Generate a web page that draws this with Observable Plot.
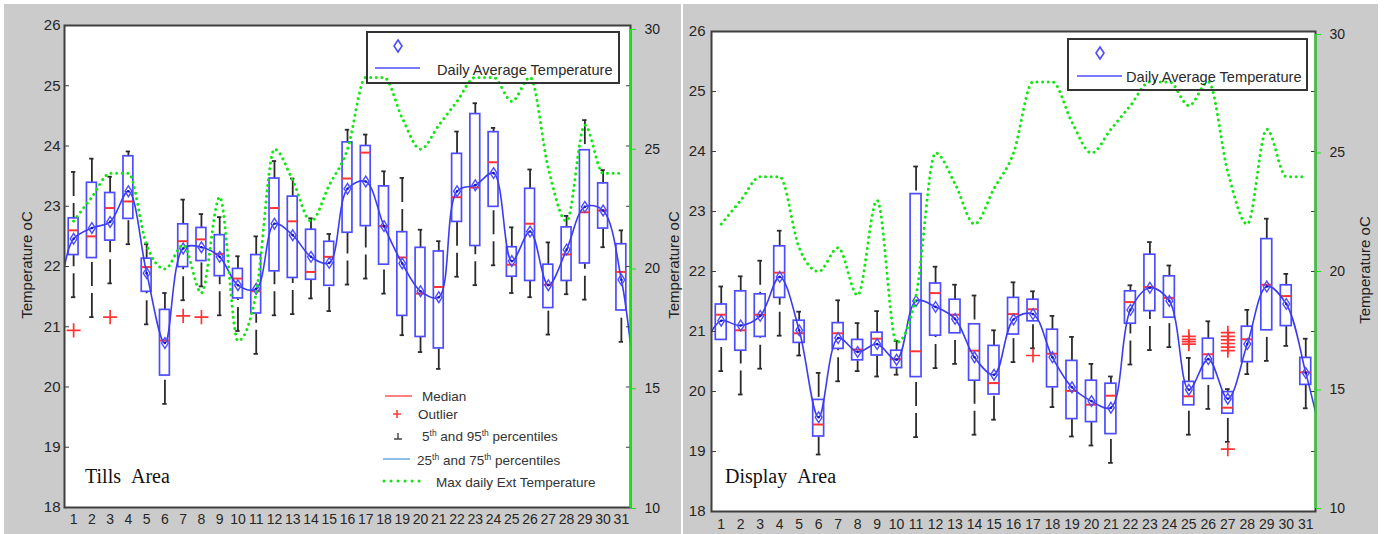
<!DOCTYPE html>
<html>
<head>
<meta charset="utf-8">
<script src="https://cdn.jsdelivr.net/npm/d3@7"></script>
<script src="https://cdn.jsdelivr.net/npm/@observablehq/plot@0.6"></script>
<style>
  body { margin: 0; background: #fff; }
  #page { position: relative; width: 1384px; height: 534px; overflow: hidden; font-family: "Liberation Sans", Arial, sans-serif; }
  .panel { position: absolute; background: #cbcbcb; }
  .layer { position: absolute; top: 0; }
  .layer svg { display: block; }
</style>
</head>
<body>
<div id="page"></div>
<script>
// ---- shared categories and tick values ----
const days = [1, 2, 3, 4, 5, 6, 7, 8, 9, 10, 11, 12, 13, 14, 15, 16, 17, 18, 19, 20, 21, 22, 23, 24, 25, 26, 27, 28, 29, 30, 31];
const tempTicks = [18, 19, 20, 21, 22, 23, 24, 25, 26];
const extTicks = [10, 15, 20, 25, 30];

// Max daily external temperature (right axis), same month for both areas
const extTemp = [22, 23, 24, 24, 21, 20, 21, 19, 23, 17, 19, 25, 23.7, 22, 23.5, 25, 28, 28, 26.3, 25, 26, 27, 28, 28, 27, 28, 24.2, 22, 26, 24, 24];

// ---- Tills area: daily distributions ----
const tillsP95 = [23.57, 23.79, 23.49, 23.91, 22.37, 21.56, 23.11, 22.87, 22.82, 22.17, 22.50, 23.75, 23.46, 22.80, 22.54, 24.27, 24.19, 23.58, 23.47, 22.61, 22.42, 24.24, 24.71, 24.30, 22.65, 23.61, 22.40, 22.84, 24.43, 23.60, 22.60];
const tillsQ3 = [22.80, 23.39, 23.22, 23.83, 22.13, 21.28, 22.70, 22.64, 22.52, 21.96, 22.19, 23.46, 23.16, 22.61, 22.41, 24.06, 24.00, 23.33, 22.57, 22.31, 22.25, 23.87, 24.53, 24.23, 22.32, 23.29, 22.03, 22.65, 23.93, 23.38, 22.37];
const tillsMedian = [22.60, 22.50, 22.97, 23.08, 21.99, 20.77, 22.42, 22.45, 22.21, 21.80, 21.59, 22.97, 22.75, 21.91, 22.16, 23.46, 23.89, 22.67, 22.15, 21.55, 21.66, 23.15, 23.31, 23.73, 22.03, 22.71, 21.70, 22.20, 22.90, 22.93, 21.91];
const tillsMean = [22.46, 22.64, 22.74, 23.25, 21.89, 20.73, 22.30, 22.32, 22.16, 21.69, 21.63, 22.71, 22.52, 22.16, 22.06, 23.29, 23.41, 22.67, 22.05, 21.59, 21.49, 23.25, 23.35, 23.55, 22.09, 22.58, 21.69, 22.28, 22.99, 22.93, 21.78];
const tillsQ1 = [22.19, 22.14, 22.43, 22.79, 21.58, 20.19, 21.99, 22.09, 21.84, 21.47, 21.22, 21.92, 21.81, 21.78, 21.68, 22.56, 22.67, 22.03, 21.18, 20.83, 20.64, 22.74, 22.34, 22.99, 21.83, 21.76, 21.31, 21.76, 22.05, 22.63, 21.27];
const tillsP5 = [21.49, 21.16, 21.72, 22.37, 21.04, 19.72, 21.44, 21.67, 21.19, 20.93, 20.55, 21.19, 21.21, 21.47, 21.26, 21.70, 21.80, 21.55, 20.86, 20.58, 20.30, 21.83, 21.69, 22.02, 21.56, 21.49, 20.87, 21.54, 21.45, 22.32, 20.75];
const tillsOutlierDays = [1, 3, 7, 8];
const tillsOutlierValues = [20.94, 21.16, 21.18, 21.16];
const tillsCurveEnds = [22.0, 20.7]; // average curve where it meets the frame edges

// ---- Display area: daily distributions ----
const displayP95 = [21.75, 21.92, 22.18, 22.68, 21.33, 20.31, 21.52, 21.14, 21.34, 20.84, 23.75, 22.08, 21.78, 21.60, 21.02, 21.82, 21.67, 21.26, 20.91, 20.46, 20.25, 21.77, 22.49, 22.10, 20.56, 21.17, 20.04, 21.36, 22.88, 21.96, 20.88];
const displayQ3 = [21.45, 21.67, 21.62, 22.42, 21.18, 19.86, 21.14, 20.86, 20.98, 20.68, 23.29, 21.80, 21.53, 21.12, 20.76, 21.56, 21.53, 21.03, 20.51, 20.18, 20.13, 21.67, 22.28, 21.92, 20.16, 20.88, 19.99, 21.08, 22.54, 21.77, 20.56];
const displayMedian = [21.28, 21.02, 21.28, 21.98, 20.97, 19.45, 20.97, 20.70, 20.88, 20.54, 20.67, 21.64, 21.28, 20.68, 20.14, 21.29, 21.37, 20.63, 20.01, 19.78, 19.93, 21.49, 21.74, 21.56, 19.92, 20.62, 19.73, 20.87, 21.78, 21.59, 20.32];
const displayMean = [21.18, 21.10, 21.26, 21.91, 21.02, 19.57, 20.89, 20.66, 20.79, 20.53, 21.51, 21.41, 21.21, 20.57, 20.28, 21.20, 21.29, 20.57, 20.07, 19.84, 19.73, 21.36, 21.73, 21.51, 20.03, 20.54, 19.88, 20.79, 21.75, 21.46, 20.31];
const displayQ1 = [20.86, 20.68, 20.91, 21.56, 20.81, 19.25, 20.71, 20.52, 20.60, 20.39, 20.24, 20.93, 20.97, 20.18, 19.95, 20.95, 21.17, 20.07, 19.54, 19.49, 19.29, 21.13, 21.34, 21.23, 19.77, 20.21, 19.63, 20.49, 21.02, 21.09, 20.11];
const displayP5 = [20.34, 19.95, 20.38, 20.93, 20.60, 18.95, 20.17, 20.34, 20.25, 20.28, 19.24, 20.39, 20.46, 19.28, 19.53, 20.49, 20.72, 19.74, 19.25, 19.10, 18.81, 20.45, 20.69, 20.74, 19.28, 19.71, 19.16, 20.29, 20.51, 20.76, 19.72];
const displayOutlierDays = [17, 25, 25, 25, 25, 27, 27, 27, 27, 27, 27, 27];
const displayOutlierValues = [20.60, 20.92, 20.87, 20.83, 20.79, 20.98, 20.92, 20.86, 20.80, 20.74, 20.68, 19.04];
const displayCurveEnds = [21.0, 19.66];

// ---- colours ----
const BOX_BLUE = "#4d4dff";
const CURVE_BLUE = "#3b3bf2";
const MEDIAN_RED = "#ff3434";
const WHISKER = "#2b2b2b";
const EXT_GREEN = "#14e614";
const FRAME = "#3f3f3f";

const xDomain = [0.5, 31.5];

// open diamond, taller than wide, used for the daily mean
const tallDiamond = {
  draw(context, size) {
    const r = Math.sqrt(size / Math.PI);
    context.moveTo(0, -1.35 * r);
    context.lineTo(0.85 * r, 0);
    context.lineTo(0, 1.35 * r);
    context.lineTo(-0.85 * r, 0);
    context.closePath();
  }
};

function boxRows(p95, q3, med, mean, q1, p5) {
  return days.map((day, i) => ({day, p95: p95[i], q3: q3[i], med: med[i], mean: mean[i], q1: q1[i], p5: p5[i]}));
}
function pairRows(xs, ys) {
  return xs.map((day, i) => ({day, value: ys[i]}));
}

const page = document.getElementById("page");

function addLayer(left, node) {
  const div = document.createElement("div");
  div.className = "layer";
  div.style.left = left + "px";
  div.appendChild(node);
  page.appendChild(div);
}

function drawPanel(cfg) {
  const rows = boxRows(...cfg.stats);
  const outliers = pairRows(cfg.outlierDays, cfg.outlierValues);
  const curve = [
    {day: xDomain[0], value: cfg.curveEnds[0]},
    ...rows.map(d => ({day: d.day, value: d.mean})),
    {day: xDomain[1], value: cfg.curveEnds[1]}
  ];
  const ext = pairRows(days, extTemp);
  const bh = cfg.boxHalf, ch = 0.12;

  const main = Plot.plot({
    width: cfg.width, height: 534,
    marginLeft: cfg.main.left, marginRight: cfg.main.right, marginTop: cfg.main.top, marginBottom: cfg.main.bottom,
    style: {background: "transparent", fontFamily: "'Liberation Sans', Arial, sans-serif", color: "#222", overflow: "visible"},
    x: {domain: xDomain, label: null},
    y: {domain: [18, 26], label: null},
    marks: [
      Plot.frame({fill: "white", stroke: "none"}),
      // whiskers to the 5th / 95th percentiles
      Plot.link(rows, {x1: "day", x2: "day", y1: "p95", y2: "q3", stroke: WHISKER, strokeWidth: 1.8, strokeDasharray: "24 7"}),
      Plot.link(rows, {x1: "day", x2: "day", y1: "p5", y2: "q1", stroke: WHISKER, strokeWidth: 1.8, strokeDasharray: "24 7"}),
      Plot.ruleY(rows, {y: "p95", x1: d => d.day - ch, x2: d => d.day + ch, stroke: WHISKER, strokeWidth: 1.8}),
      Plot.ruleY(rows, {y: "p5", x1: d => d.day - ch, x2: d => d.day + ch, stroke: WHISKER, strokeWidth: 1.8}),
      // interquartile boxes
      Plot.rect(rows, {x1: d => d.day - bh, x2: d => d.day + bh, y1: "q1", y2: "q3", fill: "none", stroke: BOX_BLUE, strokeWidth: 1.7}),
      // medians
      Plot.ruleY(rows, {y: "med", x1: d => d.day - bh, x2: d => d.day + bh, stroke: MEDIAN_RED, strokeWidth: 2}),
      // daily average curve and mean markers
      Plot.line(curve, {x: "day", y: "value", curve: "catmull-rom", stroke: CURVE_BLUE, strokeWidth: 1.6, clip: "frame"}),
      Plot.dot(rows, {x: "day", y: "mean", r: 1.3, fill: "#1515c8"}),
      Plot.dot(rows, {x: "day", y: "mean", symbol: tallDiamond, r: 4, stroke: BOX_BLUE, fill: "none", strokeWidth: 1.4}),
      // outliers
      Plot.dot(outliers, {x: "day", y: "value", symbol: "plus", r: 4.6, stroke: MEDIAN_RED, strokeWidth: 1.7}),
      Plot.frame({stroke: FRAME, strokeWidth: 2, fill: "none"}),
      Plot.axisY({anchor: "left", ticks: tempTicks, tickSize: -5, tickPadding: cfg.leftPad, fontSize: 15, stroke: FRAME, fill: "#262626", label: null}),
      Plot.axisY({anchor: "right", ticks: tempTicks, tickSize: -5, tickFormat: () => "", stroke: FRAME, label: null}),
      Plot.axisX({anchor: "bottom", ticks: days, tickSize: 0, tickPadding: cfg.xPad, fontSize: 14, fill: "#262626", tickFormat: d => String(d), label: null})
    ]
  });

  const overlay = Plot.plot({
    width: cfg.width, height: 534,
    marginLeft: cfg.over.left, marginRight: cfg.over.right, marginTop: cfg.over.top, marginBottom: cfg.over.bottom,
    style: {background: "transparent", fontFamily: "'Liberation Sans', Arial, sans-serif", color: "#222", overflow: "visible"},
    x: {domain: xDomain, label: null, axis: null},
    y: {domain: [10, 30], label: null},
    marks: [
      Plot.line(ext, {x: "day", y: "value", curve: "monotone-x", stroke: EXT_GREEN, strokeWidth: 3, strokeLinecap: "round", strokeDasharray: "0.01 5.6"}),
      Plot.ruleX([xDomain[1]], {stroke: EXT_GREEN, strokeWidth: 2}),
      Plot.axisY({anchor: "right", ticks: extTicks, tickSize: 5, tickPadding: 9, fontSize: 14, stroke: EXT_GREEN, fill: "#1e1e1e", label: null})
    ]
  });

  addLayer(cfg.left, main);
  addLayer(cfg.left, overlay);
}

// gray figure backgrounds
[[4, 4, 677, 530], [683, 4, 695, 530]].forEach(([l, t, w, h]) => {
  const d = document.createElement("div");
  d.className = "panel";
  Object.assign(d.style, {left: l + "px", top: t + "px", width: w + "px", height: h + "px"});
  page.appendChild(d);
});

drawPanel({
  left: 0, width: 680, boxHalf: 0.27, leftPad: 9, xPad: 7,
  main: {top: 25, bottom: 27, left: 64, right: 50},
  over: {top: 29, bottom: 26, left: 64, right: 50},
  stats: [tillsP95, tillsQ3, tillsMedian, tillsMean, tillsQ1, tillsP5],
  outlierDays: tillsOutlierDays, outlierValues: tillsOutlierValues, curveEnds: tillsCurveEnds
});

drawPanel({
  left: 683, width: 701, boxHalf: 0.28, leftPad: 11, xPad: 8,
  main: {top: 31, bottom: 23, left: 28, right: 69},
  over: {top: 34, bottom: 26, left: 28, right: 69},
  stats: [displayP95, displayQ3, displayMedian, displayMean, displayQ1, displayP5],
  outlierDays: displayOutlierDays, outlierValues: displayOutlierValues, curveEnds: displayCurveEnds
});

// ---- titles, area names and legends ----
const ann = d3.create("svg").attr("width", 1384).attr("height", 534)
  .style("font-family", "'Liberation Sans', Arial, sans-serif");

[[26, 265], [673, 265], [1364, 270]].forEach(([x, y]) => {
  ann.append("text").attr("transform", `translate(${x},${y}) rotate(-90)`)
    .attr("text-anchor", "middle").attr("dominant-baseline", "central")
    .attr("font-size", 15).attr("fill", "#222").text("Temperature oC");
});

[["Tills\u00a0\u00a0Area", 85], ["Display\u00a0\u00a0Area", 725]].forEach(([t, x]) => {
  ann.append("text").attr("x", x).attr("y", 483)
    .attr("font-family", "'Liberation Serif', 'Times New Roman', serif")
    .attr("font-size", 20).attr("fill", "#111").text(t);
});

function diamondPath(cx, cy) {
  return `M${cx},${cy - 6}L${cx + 4},${cy}L${cx},${cy + 6}L${cx - 4},${cy}Z`;
}

// upper legend boxes
[
  {x: 367, y: 32, w: 252, h: 51, dx: 398, dy: 46, lx1: 375, lx2: 420, ly: 68, tx: 437, ty: 75},
  {x: 1068, y: 39, w: 239, h: 51, dx: 1100, dy: 53, lx1: 1077, lx2: 1122, ly: 76, tx: 1126, ty: 82}
].forEach(g => {
  ann.append("rect").attr("x", g.x).attr("y", g.y).attr("width", g.w).attr("height", g.h)
    .attr("fill", "none").attr("stroke", "#333").attr("stroke-width", 2);
  ann.append("path").attr("d", diamondPath(g.dx, g.dy)).attr("fill", "none").attr("stroke", BOX_BLUE).attr("stroke-width", 1.6);
  ann.append("line").attr("x1", g.lx1).attr("x2", g.lx2).attr("y1", g.ly).attr("y2", g.ly)
    .attr("stroke", BOX_BLUE).attr("stroke-width", 1.6);
  ann.append("text").attr("x", g.tx).attr("y", g.ty).attr("font-size", 14.6).attr("fill", "#2a2a2a")
    .text("Daily Average Temperature");
});

// lower legend (Tills panel)
const lg = ann.append("g").attr("font-size", 13.5).attr("fill", "#333");
lg.append("line").attr("x1", 385).attr("x2", 412).attr("y1", 396).attr("y2", 396).attr("stroke", "#ff8080").attr("stroke-width", 2);
lg.append("text").attr("x", 422).attr("y", 401).text("Median");
lg.append("path").attr("d", "M393,414h8M397,410v8").attr("stroke", "#ff3b3b").attr("stroke-width", 1.6);
lg.append("text").attr("x", 418).attr("y", 419).text("Outlier");
lg.append("path").attr("d", "M394,439h8M398,439v-6").attr("stroke", "#444").attr("stroke-width", 1.4);
const t5 = lg.append("text").attr("x", 422).attr("y", 441);
t5.append("tspan").text("5");
t5.append("tspan").attr("font-size", 8.5).attr("dy", -5).text("th");
t5.append("tspan").attr("dy", 5).text(" and 95");
t5.append("tspan").attr("font-size", 8.5).attr("dy", -5).text("th");
t5.append("tspan").attr("dy", 5).text(" percentiles");
lg.append("line").attr("x1", 383).attr("x2", 410).attr("y1", 459).attr("y2", 459).attr("stroke", "#8fbfe8").attr("stroke-width", 2);
const t25 = lg.append("text").attr("x", 417).attr("y", 465);
t25.append("tspan").text("25");
t25.append("tspan").attr("font-size", 8.5).attr("dy", -5).text("th");
t25.append("tspan").attr("dy", 5).text(" and 75");
t25.append("tspan").attr("font-size", 8.5).attr("dy", -5).text("th");
t25.append("tspan").attr("dy", 5).text(" percentiles");
lg.append("line").attr("x1", 384).attr("x2", 421).attr("y1", 481).attr("y2", 481)
  .attr("stroke", EXT_GREEN).attr("stroke-width", 3).attr("stroke-linecap", "round").attr("stroke-dasharray", "0.01 7");
lg.append("text").attr("x", 436).attr("y", 487).text("Max daily Ext Temperature");

addLayer(0, ann.node());
</script>
</body>
</html>
